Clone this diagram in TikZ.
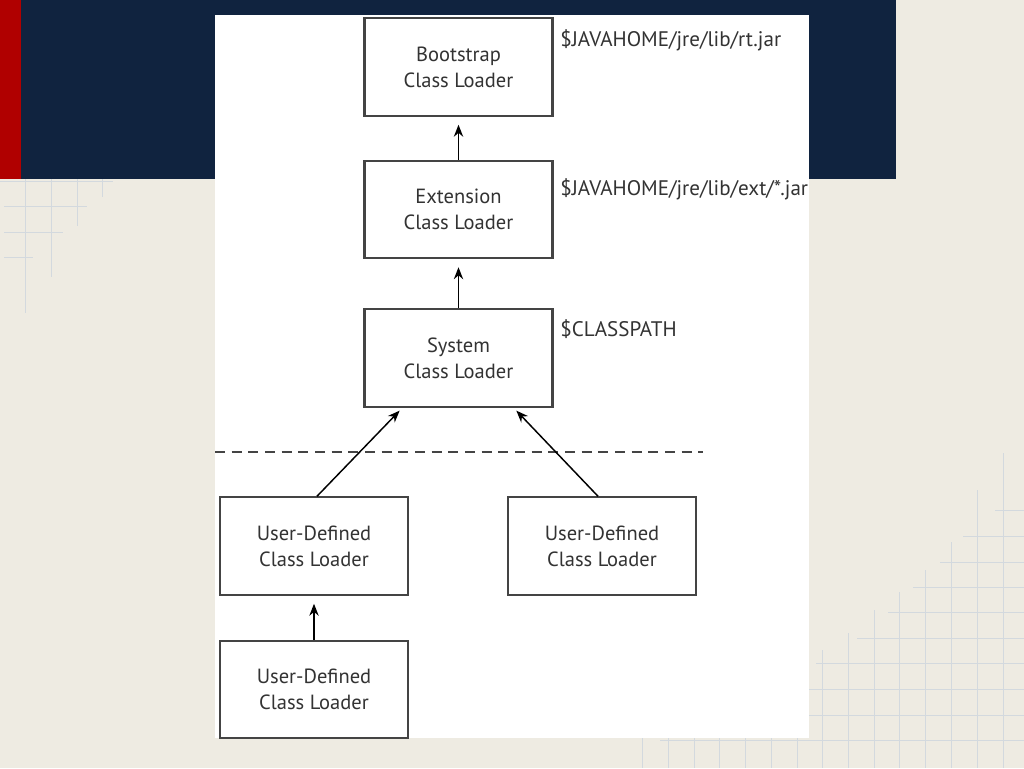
\documentclass[tikz,border=0pt]{standalone}
\usepackage{fontspec}
\setmainfont{PT Sans}
\usetikzlibrary{arrows.meta}
\definecolor{bgbeige}{HTML}{EEEBE2}
\definecolor{navy}{HTML}{10233F}
\definecolor{redstrip}{HTML}{B00000}
\definecolor{gridc}{HTML}{D3D9DE}
\definecolor{boxline}{HTML}{444444}
\tikzset{
  box/.style={draw=boxline, line width=1.6pt, fill=white, minimum width=141pt, minimum height=73pt,
    align=center, inner sep=0pt, font=\fontsize{15.4pt}{19.5pt}\selectfont, text=black!80},
  lbl/.style={anchor=west, inner sep=0pt, font=\fontsize{15.8pt}{18pt}\selectfont, text=black!80},
  arr/.style={line width=1.1pt, -{Stealth[length=9pt,width=7pt]}, shorten >=6pt},
  gridline/.style={gridc, line width=0.7pt}
}
\begin{document}
\begin{tikzpicture}[x=0.75pt,y=-0.75pt]
\useasboundingbox (0,0) rectangle (1024,768);
\fill[bgbeige] (0,0) rectangle (1024,768);
% grid lines top-left
\foreach \x/\yb in {25/313,51/277,77/226,102/197} \draw[gridline] (\x,179) -- (\x,\yb);
\draw[gridline] (4,206) -- (87,206);
\draw[gridline] (4,232) -- (63,232);
\draw[gridline] (4,257) -- (33,257);
\draw[gridline] (0,181) -- (113,181);
% grid lines bottom-right
\foreach \x/\yt in {822/650,848/633,874/610,899/592,925/570,951/542,977/490,1003/453} \draw[gridline] (\x,\yt) -- (\x,768);
\foreach \x in {642,668,694,719,745,771,797} \draw[gridline] (\x,738) -- (\x,768);
\foreach \y/\xs in {510/995,536/963,562/940,587/913,612/888,638/857,663/816,689/809,715/809,740/660} \draw[gridline] (\xs,\y) -- (1024,\y);
% header
\fill[navy] (0,0) rectangle (896,179);
\fill[redstrip] (0,0) rectangle (21,179);
% white panel
\fill[white] (215,15) rectangle (809,738);
% boxes
\node[box] (boot) at (458.5,67) {Bootstrap\\Class Loader};
\node[box] (ext) at (458.5,209.5) {Extension\\Class Loader};
\node[box] (sys) at (458.5,358) {System\\Class Loader};
\node[box] (ud1) at (314,546) {User-Defined\\Class Loader};
\node[box] (ud2) at (602,546) {User-Defined\\Class Loader};
\node[box] (ud3) at (314,689.5) {User-Defined\\Class Loader};
% labels
\node[lbl] (l1) at (560,40) {\$JAVAHOME/jre/lib/rt.jar};
\node[lbl] (l2) at (560,189) {\$JAVAHOME/jre/lib/ext/*.jar};
\node[lbl] (l3) at (560,329) {\$CLASSPATH};
% dashed separator
\coordinate (dl) at (215,452);
\coordinate (dr) at (703,452);
\draw[boxline, line width=1.3pt, dash pattern=on 7.5pt off 5pt] (dl) -- (dr);
% arrows
\draw[arr] (ext.north) -- (boot.south);
\draw[arr] (sys.north) -- (ext.south);
\draw[arr, shorten >=3pt] ([xshift=2.25pt]ud1.north) -- ([xshift=29.25pt]sys.south west);
\draw[arr, shorten >=3pt] ([xshift=-3pt]ud2.north) -- ([xshift=-30pt]sys.south east);
\draw[arr] (ud3.north) -- (ud1.south);
\end{tikzpicture}
\end{document}
